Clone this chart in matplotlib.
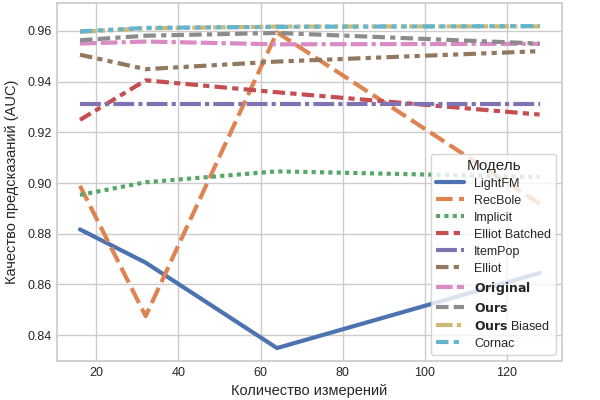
import numpy as np
import pandas as pd
import matplotlib
matplotlib.use("Agg")
import matplotlib.pyplot as plt
import seaborn as sns

dims = [16, 32, 64, 128]
models = ["LightFM", "RecBole", "Implicit", "Elliot Batched", "ItemPop", "Elliot",
          r"$\bf{Original}$", r"$\bf{Ours}$", r"$\bf{Ours}$ Biased", "Cornac"]
auc = {
    "LightFM":             [0.8817, 0.8686, 0.8349, 0.8645],
    "RecBole":             [0.8989, 0.8475, 0.9594, 0.8918],
    "Implicit":            [0.8953, 0.9003, 0.9046, 0.9024],
    "Elliot Batched":      [0.9249, 0.9405, 0.9358, 0.9270],
    "ItemPop":             [0.9312, 0.9312, 0.9312, 0.9312],
    "Elliot":              [0.9506, 0.9449, 0.9479, 0.9520],
    r"$\bf{Original}$":    [0.9550, 0.9558, 0.9547, 0.9549],
    r"$\bf{Ours}$":        [0.9563, 0.9581, 0.9592, 0.9550],
    r"$\bf{Ours}$ Biased": [0.9596, 0.9610, 0.9617, 0.9618],
    "Cornac":              [0.9598, 0.9612, 0.9616, 0.9619],
}

rows = []
for m in models:
    for d, v in zip(dims, auc[m]):
        rows.append({"dim": d, "auc": v, "Модель": m})
df = pd.DataFrame(rows)

sns.set_theme(style="whitegrid", palette="deep")
plt.rcParams['font.family'] = ['Liberation Sans', 'DejaVu Sans']

fig, ax = plt.subplots(figsize=(6, 4), dpi=100)
sns.lineplot(data=df, x="dim", y="auc", hue="Модель", style="Модель",
             hue_order=models, style_order=models, linewidth=3, ax=ax)

ax.set_xlim(10.4, 133.5)
ax.set_ylim(0.8298, 0.971)
ax.set_yticks([0.84, 0.86, 0.88, 0.90, 0.92, 0.94, 0.96])
ax.set_xlabel("Количество измерений", fontsize=10.5, labelpad=4)
ax.set_ylabel("Качество предсказаний (AUC)", fontsize=10.5, labelpad=6)
ax.tick_params(labelsize=9, length=0, pad=4)

leg = ax.legend(title="Модель", loc="lower right", fontsize=9, title_fontsize=11,
                handlelength=2.2, labelspacing=0.4, borderaxespad=0.5)

plt.subplots_adjust(left=0.095, right=0.937, top=0.9925, bottom=0.0975)
plt.savefig("out.png", dpi=100)
